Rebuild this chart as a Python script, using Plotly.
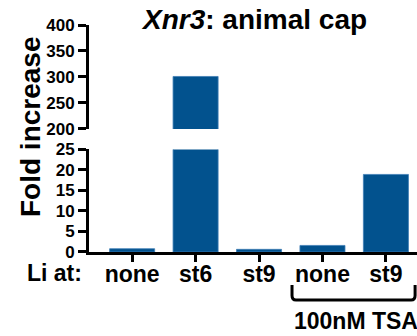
import plotly.graph_objects as go

# Data
categories = ["none", "st6", "st9", "none ", "st9 "]
tick_text = ["none", "st6", "st9", "none", "st9"]
fold_increase = [0.8, 301, 0.65, 1.6, 18.9]

lower_ticks = [0, 5, 10, 15, 20, 25]
upper_ticks = [200, 250, 300, 350, 400]

BAR = "#02528E"
FONT = "Arial, Liberation Sans, sans-serif"

W, H = 417, 336
ML, MR, MT, MB = 89, 0, 25, 84
x_range = [-0.68, 4.49]

xpos = list(range(len(categories)))


def bold(s):
    return f"<b>{s}</b>"


fig = go.Figure()
# lower panel (0-25)
fig.add_trace(go.Bar(x=xpos, y=fold_increase, xaxis="x", yaxis="y",
                     marker=dict(color=BAR, line=dict(color="#3F7DB5", width=0.8)),
                     width=0.71, showlegend=False))
# upper panel (200-400)
fig.add_trace(go.Bar(x=xpos, y=fold_increase, xaxis="x", yaxis="y2",
                     marker=dict(color=BAR, line=dict(color="#3F7DB5", width=0.8)),
                     width=0.71, showlegend=False))

axis_common = dict(showline=True, linecolor="black", linewidth=3,
                   ticks="outside", tickcolor="black", tickwidth=3,
                   showgrid=False, zeroline=False, ticklen=8, anchor="x",
                   tickfont=dict(family=FONT, size=17, color="black"))

fig.update_layout(
    width=W, height=H,
    margin=dict(l=ML, r=MR, t=MT, b=MB),
    paper_bgcolor="white", plot_bgcolor="white",
    xaxis=dict(range=x_range, tickvals=xpos, ticktext=[bold(t) for t in tick_text],
               showline=True, linecolor="black", linewidth=3,
               ticks="outside", tickcolor="black", tickwidth=3, ticklen=7,
               ticklabelstandoff=-8,
               showgrid=False, zeroline=False, anchor="y",
               tickfont=dict(family=FONT, size=23, color="black")),
    yaxis=dict(domain=[0, 0.452], range=[0, 25], tickvals=lower_ticks,
               ticktext=[bold(t) for t in lower_ticks], **axis_common),
    yaxis2=dict(domain=[0.542, 1.0], range=[200, 400], tickvals=upper_ticks,
                ticktext=[bold(t) for t in upper_ticks], **axis_common),
)

plot_w = W - ML - MR
plot_h = H - MT - MB


def px_x(v):
    """paper x for a data x value"""
    return (v - x_range[0]) / (x_range[1] - x_range[0])


def paper_y(py):
    """paper y for a pixel row measured from the top of the page"""
    return (H - MB - py) / plot_h


def paper_x(px):
    return (px - ML) / plot_w


# title
fig.add_annotation(text=bold("<i>Xnr3</i>: animal cap"), xref="paper", yref="paper",
                   x=paper_x(254), y=paper_y(19), showarrow=False,
                   xanchor="center", yanchor="middle",
                   font=dict(family=FONT, size=28, color="black"))

# y-axis title
fig.add_annotation(text=bold("Fold increase"), xref="paper", yref="paper",
                   x=paper_x(30), y=paper_y(127), showarrow=False, textangle=-90,
                   xanchor="center", yanchor="middle",
                   font=dict(family=FONT, size=28, color="black"))

# row label for treatment stage
fig.add_annotation(text=bold("Li at:"), xref="paper", yref="paper",
                   x=paper_x(84), y=paper_y(273), showarrow=False,
                   xanchor="right", yanchor="middle",
                   font=dict(family=FONT, size=23, color="black"))

# bracket grouping the TSA-treated samples
bx0, bx1 = px_x(2.52), px_x(4.46)
by0, by1 = paper_y(285), paper_y(300)
rx, ry = 0.012, 0.02
path = (f"M {bx0},{by0} L {bx0},{by1 + ry} Q {bx0},{by1} {bx0 + rx},{by1} "
        f"L {bx1 - rx},{by1} Q {bx1},{by1} {bx1},{by1 + ry} L {bx1},{by0}")
fig.add_shape(type="path", path=path, xref="paper", yref="paper",
              line=dict(color="black", width=3))

fig.add_annotation(text=bold("100nM TSA"), xref="paper", yref="paper",
                   x=paper_x(356), y=paper_y(321), showarrow=False,
                   xanchor="center", yanchor="middle",
                   font=dict(family=FONT, size=23, color="black"))

fig.write_html("out.html")
